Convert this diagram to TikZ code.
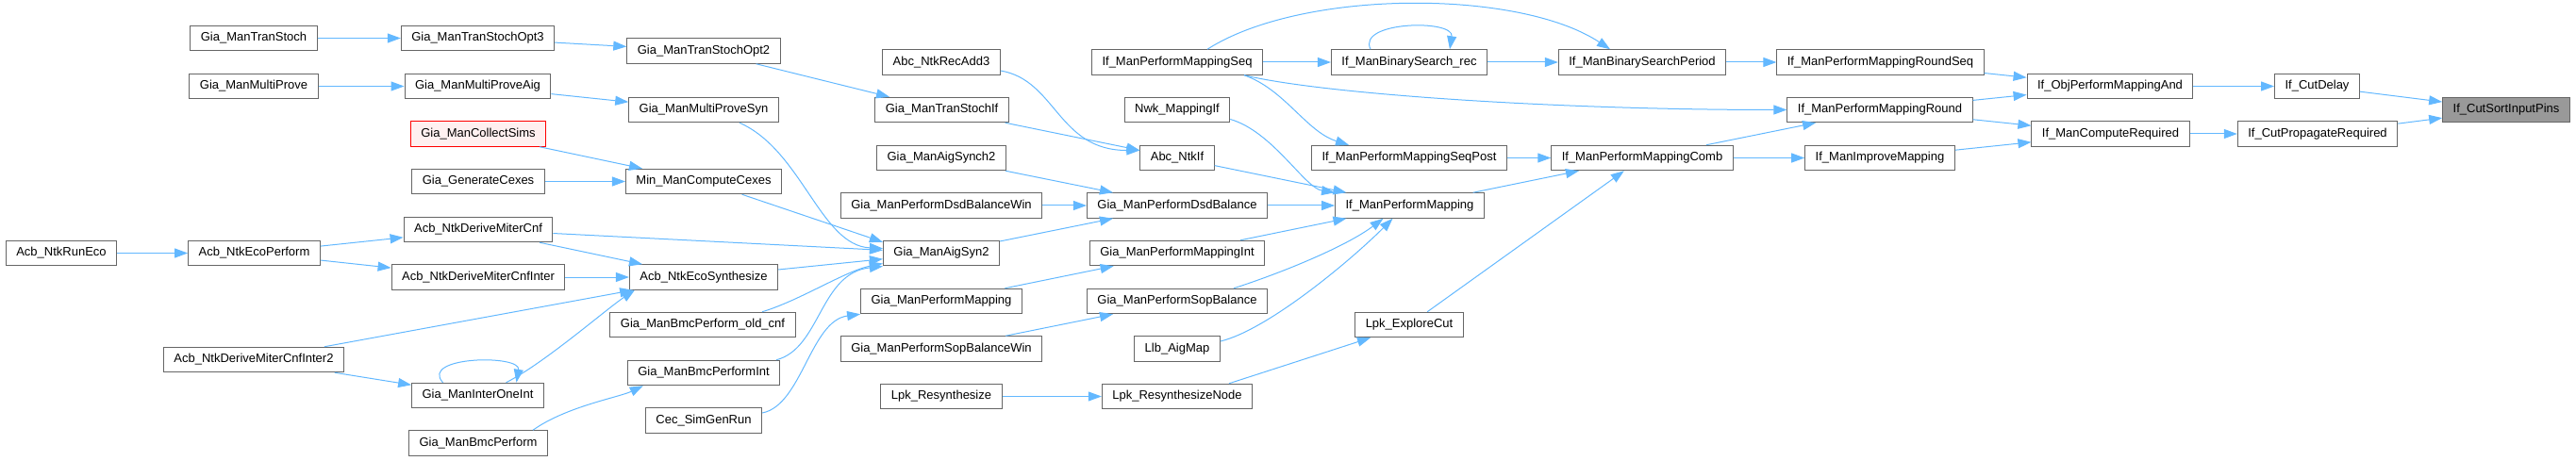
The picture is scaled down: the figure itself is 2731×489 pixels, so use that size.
\documentclass[tikz,border=0pt]{standalone}
\usepackage{fontspec}
\setmainfont{Liberation Sans}
\usetikzlibrary{arrows.meta}

\begin{document}
\begin{tikzpicture}[x=1pt,y=-1pt,
  fn/.style={draw=nodeLine,line width=1pt,fill=white,inner xsep=11pt,inner ysep=0pt,
    minimum height=26.5pt,font=\fontsize{13}{15}\selectfont},
  fnCur/.style={fn,fill=nodeCur},
  fnRed/.style={fn,draw=red,fill=nodeRed},
  call/.style={draw=callBlue,line width=1pt,-{Triangle[length=14pt,width=10pt]}}]
\definecolor{nodeLine}{HTML}{666666}
\definecolor{nodeCur}{HTML}{999999}
\definecolor{nodeRed}{HTML}{FFF0F0}
\definecolor{callBlue}{HTML}{63B8FF}
\useasboundingbox (0,0) rectangle (2731,489);
\node[fn] (runeco) at (65,268.5) {Acb\_NtkRunEco};
\node[fn] (tstoch) at (269,40.5) {Gia\_ManTranStoch};
\node[fn] (mprove) at (269,91.5) {Gia\_ManMultiProve};
\node[fn] (ecoperf) at (269.5,268.5) {Acb\_NtkEcoPerform};
\node[fn] (dmcinter2) at (269,381.5) {Acb\_NtkDeriveMiterCnfInter2};
\node[fn] (tsopt3) at (506.5,40.5) {Gia\_ManTranStochOpt3};
\node[fn] (mproveaig) at (506.5,91.5) {Gia\_ManMultiProveAig};
\node[fnRed] (collsims) at (507,142) {Gia\_ManCollectSims};
\node[fn] (gencex) at (507,192.5) {Gia\_GenerateCexes};
\node[fn] (dmcnf) at (507,243.5) {Acb\_NtkDeriveMiterCnf};
\node[fn] (dmcinter) at (507,294) {Acb\_NtkDeriveMiterCnfInter};
\node[fn] (interone) at (506.5,419.5) {Gia\_ManInterOneInt};
\node[fn] (bmcperf) at (507,470) {Gia\_ManBmcPerform};
\node[fn] (tsopt2) at (746,54) {Gia\_ManTranStochOpt2};
\node[fn] (mprovesyn) at (746,116.5) {Gia\_ManMultiProveSyn};
\node[fn] (mincex) at (746,192.5) {Min\_ManComputeCexes};
\node[fn] (ecosyn) at (746,294) {Acb\_NtkEcoSynthesize};
\node[fn] (bmcold) at (745,344.5) {Gia\_ManBmcPerform\_old\_cnf};
\node[fn] (bmcint) at (746,395.5) {Gia\_ManBmcPerformInt};
\node[fn] (simgen) at (746,446) {Cec\_SimGenRun};
\node[fn] (recadd3) at (998,66) {Abc\_NtkRecAdd3};
\node[fn] (tsif) at (998.5,116.5) {Gia\_ManTranStochIf};
\node[fn] (synch2) at (998,167.5) {Gia\_ManAigSynch2};
\node[fn] (dsdwin) at (998,218) {Gia\_ManPerformDsdBalanceWin};
\node[fn] (aigsyn2) at (998,268.5) {Gia\_ManAigSyn2};
\node[fn] (gpmap) at (998,319.5) {Gia\_ManPerformMapping};
\node[fn] (sopwin) at (998,370) {Gia\_ManPerformSopBalanceWin};
\node[fn] (lpkres) at (998,420.5) {Lpk\_Resynthesize};
\node[fn] (pmseq) at (1248,66) {If\_ManPerformMappingSeq};
\node[fn] (nwkif) at (1248,116.5) {Nwk\_MappingIf};
\node[fn] (ntkif) at (1248,167.5) {Abc\_NtkIf};
\node[fn] (dsdbal) at (1248,218) {Gia\_ManPerformDsdBalance};
\node[fn] (pmint) at (1248,268.5) {Gia\_ManPerformMappingInt};
\node[fn] (sopbal) at (1248,319.5) {Gia\_ManPerformSopBalance};
\node[fn] (llbmap) at (1248,370) {Llb\_AigMap};
\node[fn] (lpknode) at (1248,420.5) {Lpk\_ResynthesizeNode};
\node[fn] (bsrec) at (1494,66) {If\_ManBinarySearch\_rec};
\node[fn] (seqpost) at (1494,167.5) {If\_ManPerformMappingSeqPost};
\node[fn] (ifpm) at (1494.5,218) {If\_ManPerformMapping};
\node[fn] (explcut) at (1494,344.5) {Lpk\_ExploreCut};
\node[fn] (bsper) at (1741,66) {If\_ManBinarySearchPeriod};
\node[fn] (pmcomb) at (1741,167.5) {If\_ManPerformMappingComb};
\node[fn] (rndseq) at (1993.5,66) {If\_ManPerformMappingRoundSeq};
\node[fn] (rnd) at (1993,116.5) {If\_ManPerformMappingRound};
\node[fn] (improve) at (1993,167.5) {If\_ManImproveMapping};
\node[fn] (objand) at (2237,91.5) {If\_ObjPerformMappingAnd};
\node[fn] (compreq) at (2237.5,142) {If\_ManComputeRequired};
\node[fn] (cutdelay) at (2456.5,91.5) {If\_CutDelay};
\node[fn] (propreq) at (2457,142) {If\_CutPropagateRequired};
\node[fnCur] (sortpins) at (2657,116.5) {If\_CutSortInputPins};
\foreach \a/\b in {runeco/ecoperf,ecoperf/dmcnf,ecoperf/dmcinter,dmcinter2/ecosyn,
    dmcinter2/interone,tstoch/tsopt3,tsopt3/tsopt2,mprove/mproveaig,mproveaig/mprovesyn,
    collsims/mincex,gencex/mincex,dmcnf/aigsyn2,dmcnf/ecosyn,dmcinter/ecosyn,ecosyn/aigsyn2,
    tsopt2/tsif,tsif/ntkif,synch2/dsdbal,dsdwin/dsdbal,aigsyn2/dsdbal,gpmap/pmint,
    sopwin/sopbal,lpkres/lpknode,pmseq/bsrec,ntkif/ifpm,dsdbal/ifpm,pmint/ifpm,bsrec/bsper,
    bsper/rndseq,seqpost/pmcomb,ifpm/pmcomb,explcut/pmcomb,pmcomb/rnd,pmcomb/improve,
    rndseq/objand,rnd/objand,rnd/compreq,improve/compreq,objand/cutdelay,compreq/propreq,
    cutdelay/sortpins,propreq/sortpins}
  \draw[call] (\a) -- (\b);
\draw[call] (mincex) -- ([yshift=-2pt]aigsyn2.north west);
\draw[call] ([xshift=55pt]lpknode.north) -- ([xshift=-41pt]explcut.south);
\draw[call] ([xshift=30pt]interone.north) .. controls +(40,-20) and +(-30,20) .. ([xshift=6pt]ecosyn.south west);
\draw[call] ([xshift=-37pt]interone.north) .. controls +(-25,-28) and +(5,-30) .. ([xshift=41pt]interone.north);
\draw[call] ([xshift=58pt]bmcperf.north) .. controls +(35,-25) and +(-25,12) .. ([xshift=17pt]bmcint.south west);
\draw[call] ([xshift=38pt]mprovesyn.south) .. controls +(66,29) and +(-66,-3) .. ([yshift=5pt]aigsyn2.west);
\draw[call] ([xshift=63pt]bmcold.north) .. controls +(40,-12) and +(-40,8) .. ([yshift=-11pt]aigsyn2.west);
\draw[call] ([xshift=77pt]bmcint.north) .. controls +(47,-12) and +(-67,7) .. ([yshift=-14pt]aigsyn2.west);
\draw[call] ([yshift=8pt]simgen.east) .. controls +(42,-8) and +(-53,7) .. (gpmap.south west);
\draw[call] ([yshift=-9pt]recadd3.east) .. controls +(59,10) and +(-87,0) .. ([yshift=8pt]ntkif.west);
\draw[call] ([xshift=32pt]pmseq.north) .. controls +(100,-64) and +(-97,-64) .. ([xshift=-34pt]bsper.north);
\draw[call] ([xshift=-20pt]pmseq.south east) .. controls +(83,20) and +(-246,0) .. (rnd.west);
\draw[call] ([xshift=-20pt]pmseq.south east) .. controls +(43,15) and +(-45,-14) .. ([xshift=-64pt]seqpost.north);
\draw[call] ([xshift=-41pt]bsrec.north) .. controls +(-15,-30) and +(5,-32) .. ([xshift=43pt]bsrec.north);
\draw[call] ([yshift=-10pt]nwkif.east) .. controls +(45,13) and +(-32,-5) .. (ifpm.north west);
\draw[call] ([xshift=60pt]sopbal.north) .. controls +(50,-16) and +(-40,30) .. ([xshift=-28pt]ifpm.south);
\draw[call] ([yshift=8pt]llbmap.east) .. controls +(50,-12) and +(-45,45) .. ([xshift=-18pt]ifpm.south);
\end{tikzpicture}
\end{document}
